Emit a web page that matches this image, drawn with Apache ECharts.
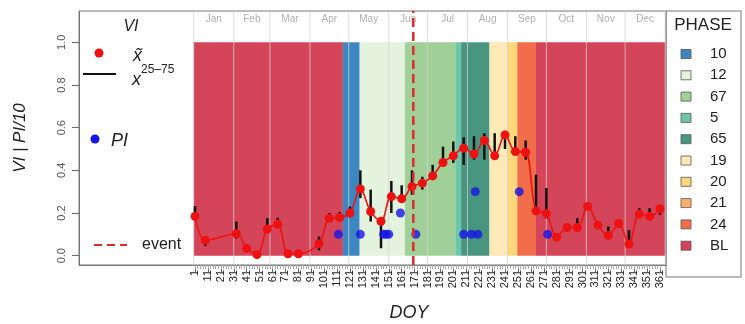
<!DOCTYPE html>
<html><head><meta charset="utf-8">
<script src="https://cdn.jsdelivr.net/npm/echarts@6/dist/echarts.min.js"></script>
<style>html,body{margin:0;padding:0;background:#fff}#c{width:745px;height:324px}</style>
</head><body><div id="c"></div>
<script>
// ---- data ----
const days = [1,9,33,41,49,57,65,73,81,97,105,113,121,129,137,145,153,161,169,177,185,193,201,209,217,225,233,241,249,257,265,273,281,289,297,305,313,321,329,337,345,353,361];
const medianVI = [0.184,0.072,0.103,0.034,0.005,0.125,0.147,0.009,0.009,0.056,0.175,0.179,0.200,0.313,0.207,0.161,0.277,0.267,0.324,0.340,0.374,0.437,0.468,0.504,0.476,0.540,0.468,0.566,0.488,0.485,0.210,0.197,0.087,0.132,0.132,0.231,0.143,0.095,0.151,0.055,0.195,0.184,0.220];
const q25VI = [0.170,0.045,0.080,0.025,0.000,0.110,0.135,0.005,0.005,0.025,0.165,0.170,0.180,0.270,0.160,0.035,0.200,0.250,0.285,0.310,0.355,0.420,0.435,0.425,0.450,0.450,0.470,0.500,0.480,0.450,0.200,0.175,0.080,0.120,0.130,0.220,0.135,0.090,0.145,0.040,0.184,0.176,0.192];
const q75VI = [0.232,0.088,0.160,0.050,0.010,0.176,0.178,0.012,0.012,0.090,0.200,0.205,0.230,0.400,0.310,0.176,0.350,0.330,0.400,0.370,0.426,0.511,0.535,0.555,0.560,0.574,0.574,0.585,0.560,0.540,0.380,0.317,0.095,0.135,0.176,0.240,0.150,0.137,0.160,0.120,0.223,0.223,0.230];
const piDays = [112,129,147,149,151,160,172,209,215,218,220,252,274];
const piValues = [1,1,1,1,1,2,1,1,1,3,1,3,1];
const eventDay = 170;
const xTickLabels = [1,11,21,31,41,51,61,71,81,91,101,111,121,131,141,151,161,171,181,191,201,211,221,231,241,251,261,271,281,291,301,311,321,331,341,351,361];
const yTickLabels = [0.0,0.2,0.4,0.6,0.8,1.0];
const monthNames = ['Jan','Feb','Mar','Apr','May','Jun','Jul','Aug','Sep','Oct','Nov','Dec'];
const monthBounds = [0,31,59,90,120,151,181,212,243,273,304,334,365];
const phaseOrder = ['10','12','67','5','65','19','20','21','24','BL'];
const phaseColors = ['#3c86c1','#e4f3dd','#a0cf97','#6fc5aa','#489680','#fde8b8','#fdd77c','#fcae6b','#f26e4b','#d5455a'];
const phaseSegStart = [0,115.5,128.5,163.5,202.5,207,229,242.5,250.5,265];
const phaseSegEnd   = [115.5,128.5,163.5,202.5,207,229,242.5,250.5,265,365.3];
const phaseSegName  = ['BL','10','12','67','5','65','19','20','24','BL'];

// ---- layout ----
const X_MIN = -88.81, X_MAX = 365.64;
const Y_MIN = -0.0436, Y_MAX = 1.1467;
const FONT = 'Liberation Sans, Arial, sans-serif';
const colorOf = n => phaseColors[phaseOrder.indexOf(n)];

const chart = echarts.init(document.getElementById('c'), null, {renderer:'canvas'});

const minorTicks = [];
for (let d = 1; d <= 361; d += 2) minorTicks.push(d);

const graphics = [
  {type:'text', x:131, y:27, style:{text:'VI', font:'italic 16px '+FONT, fill:'#222', textAlign:'center', textVerticalAlign:'middle'}},
  {type:'circle', shape:{cx:99, cy:53, r:4.5}, style:{fill:'#ee1111'}},
  {type:'text', x:133, y:56, style:{text:'x\u0303', font:'italic 18px '+FONT, fill:'#222', textAlign:'left', textVerticalAlign:'middle'}},
  {type:'line', shape:{x1:83, y1:74, x2:116, y2:74}, style:{stroke:'#111', lineWidth:2}},
  {type:'text', x:132, y:80, style:{text:'x', font:'italic 18px '+FONT, fill:'#222', textAlign:'left', textVerticalAlign:'middle'}},
  {type:'text', x:141, y:70, style:{text:'25\u201375', font:'12px '+FONT, fill:'#222', textAlign:'left', textVerticalAlign:'middle'}},
  {type:'circle', shape:{cx:95, cy:139, r:4.5}, style:{fill:'#1515e6'}},
  {type:'text', x:111, y:141, style:{text:'PI', font:'italic 18px '+FONT, fill:'#222', textAlign:'left', textVerticalAlign:'middle'}},
  {type:'line', shape:{x1:94, y1:245, x2:127, y2:245}, style:{stroke:'#dd2a2a', lineWidth:2, lineDash:[8,5]}},
  {type:'text', x:142, y:245, style:{text:'event', font:'16px '+FONT, fill:'#222', textAlign:'left', textVerticalAlign:'middle'}},
  {type:'text', x:409, y:313, style:{text:'DOY', font:'italic 18px '+FONT, fill:'#222', textAlign:'center', textVerticalAlign:'middle'}},
  // right legend box
  {type:'rect', shape:{x:666, y:11, width:75, height:266}, style:{fill:'none', stroke:'#777', lineWidth:1}},
  {type:'text', x:703, y:25, style:{text:'PHASE', font:'17px '+FONT, fill:'#222', textAlign:'center', textVerticalAlign:'middle'}}
];
phaseOrder.forEach((n, i) => {
  const cy = 54 + i * 21.3;
  graphics.push({type:'rect', shape:{x:681, y:cy-4.5, width:10, height:9}, style:{fill:phaseColors[i], stroke:'#555', lineWidth:0.8}});
  graphics.push({type:'text', x:710, y:cy, style:{text:n, font:'15px '+FONT, fill:'#222', textAlign:'left', textVerticalAlign:'middle'}});
});

chart.setOption({
  animation:false,
  backgroundColor:'#fff',
  grid:{left:79, right:79, top:11, bottom:59, show:true, borderColor:'#777', borderWidth:1, backgroundColor:'transparent'},
  xAxis:[{
    type:'value', min:X_MIN, max:X_MAX, position:'bottom',
    axisLine:{show:true, onZero:false, lineStyle:{color:'#777'}},
    axisTick:{show:true, customValues:xTickLabels, length:7, lineStyle:{color:'#666'}},
    axisLabel:{show:true, customValues:xTickLabels, rotate:90, fontSize:11, color:'#222', fontFamily:FONT, margin:5},
    splitLine:{show:false}
  },{
    type:'value', min:X_MIN, max:X_MAX, position:'bottom', gridIndex:0,
    axisLine:{show:false, onZero:false},
    axisTick:{show:true, customValues:minorTicks, length:4, lineStyle:{color:'#aaa'}},
    axisLabel:{show:false}, splitLine:{show:false}
  }],
  yAxis:{
    type:'value', min:Y_MIN, max:Y_MAX,
    axisLine:{show:true, onZero:false, lineStyle:{color:'#777'}},
    axisTick:{show:true, customValues:yTickLabels, length:7, lineStyle:{color:'#666'}},
    axisLabel:{show:true, customValues:yTickLabels, rotate:90, fontSize:11, color:'#555', fontFamily:FONT, margin:12, formatter:v=>v.toFixed(1)},
    splitLine:{show:false},
    name:'VI | PI/10', nameLocation:'middle', nameGap:50, nameRotate:90,
    nameTextStyle:{fontStyle:'italic', fontSize:17, color:'#222', fontFamily:FONT}
  },
  graphic:graphics,
  series:[
    { // phase bands
      type:'custom', z:1, silent:true,
      data: phaseSegStart.map((s,i)=>({value:[s, phaseSegEnd[i]], itemStyle:{color:colorOf(phaseSegName[i])}})),
      encode:{x:[0,1]},
      renderItem:(p, api)=>{
        const a = api.coord([api.value(0), 1]);
        const b = api.coord([api.value(1), 0]);
        return {type:'rect', shape:{x:a[0], y:a[1], width:b[0]-a[0], height:b[1]-a[1]}, style:{fill:api.visual('color')}};
      }
    },
    { // month separators + labels
      type:'custom', z:2, silent:true,
      data: monthBounds.map((d,i)=>[d,i]),
      encode:{x:0},
      renderItem:(p, api)=>{
        const d = api.value(0), i = api.value(1);
        const t = api.coord([d, Y_MAX]), b = api.coord([d, Y_MIN]);
        const ch = [{type:'line', shape:{x1:t[0], y1:t[1], x2:b[0], y2:b[1]}, style:{stroke:'rgba(210,210,210,0.75)', lineWidth:1}}];
        if (i < monthNames.length) {
          const m = api.coord([(d + monthBounds[i+1]) / 2, Y_MAX]);
          ch.push({type:'text', x:m[0], y:m[1]+8, style:{text:monthNames[i], font:'10px '+FONT, fill:'#b0b0b0', textAlign:'center', textVerticalAlign:'middle'}});
        }
        return {type:'group', children:ch};
      }
    },
    { // IQR bars
      type:'custom', z:3, silent:true,
      data: days.map((d,i)=>[d, q25VI[i], q75VI[i]]),
      encode:{x:0, y:[1,2]},
      renderItem:(p, api)=>{
        const a = api.coord([api.value(0), api.value(1)]);
        const b = api.coord([api.value(0), api.value(2)]);
        return {type:'line', shape:{x1:a[0], y1:a[1], x2:b[0], y2:b[1]}, style:{stroke:'#111', lineWidth:2.5}};
      }
    },
    { // median VI
      type:'line', z:4, smooth:0.35,
      data: days.map((d,i)=>[d, medianVI[i]]),
      symbol:'circle', symbolSize:9,
      itemStyle:{color:'#ee1111'},
      lineStyle:{color:'#ee1111', width:1.6}
    },
    { // PI/10
      type:'scatter', z:5,
      data: piDays.map((d,i)=>[d, piValues[i]/10]),
      symbol:'circle', symbolSize:9,
      itemStyle:{color:'#1515e6'}
    },
    { // event
      type:'line', z:6,
      data:[[eventDay, Y_MIN],[eventDay, Y_MAX]],
      symbol:'none',
      lineStyle:{color:'#dd2a2a', width:2.5, type:[9,5]}
    }
  ]
});
</script>
</body></html>
